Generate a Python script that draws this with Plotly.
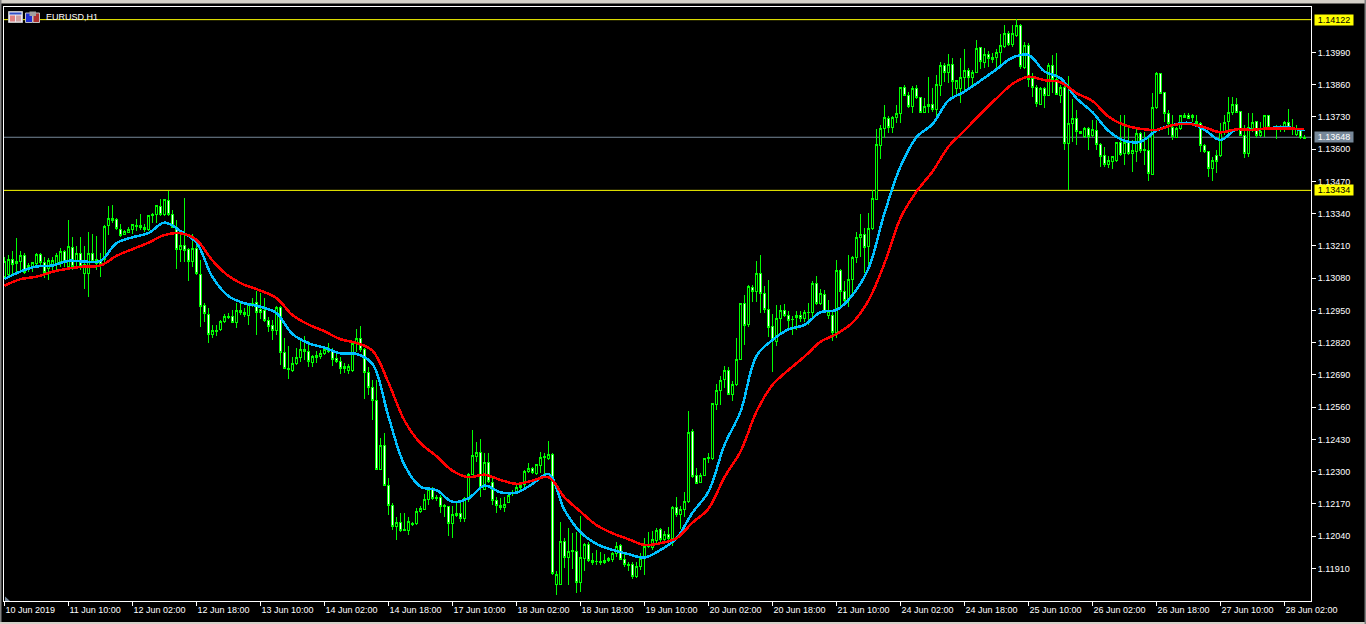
import plotly.graph_objects as go

# EURUSD H1, prices in points (1/100000), one entry per hourly bar
opens = [
    113087,113093,113157,113149,113146,113173,113114,113127,113140,113177,
    113144,113120,113134,113140,113147,113188,113127,113205,113147,113181,
    113100,113100,113181,113140,113147,113154,113292,113322,113318,113277,
    113257,113265,113275,113288,113286,113277,113275,113331,113338,113369,
    113335,113394,113338,113284,113196,113212,113194,113147,113201,113096,
    112968,112935,112854,112865,112872,112907,112921,112924,112902,112951,
    112932,112929,112975,112982,112952,112950,112911,112888,112870,112963,
    112782,112712,112710,112737,112759,112786,112786,112740,112761,112764,
    112777,112784,112786,112755,112745,112726,112709,112709,112815,112838,
    112794,112701,112640,112588,112308,112407,112245,112162,112079,112096,
    112068,112063,112086,112090,112138,112146,112189,112232,112192,112197,
    112162,112160,112092,112122,112133,112111,112190,112290,112361,112379,
    112229,112338,112256,112184,112157,112157,112176,112211,112219,112235,
    112247,112301,112314,112291,112326,112357,112353,112371,111845,111844,
    112020,111955,111978,111980,111855,111950,112008,111934,111937,111934,
    111934,111942,111947,111971,112001,111947,111924,111927,111877,111918,
    111953,111998,111994,112023,112066,112025,112048,112032,112157,112126,
    112146,112181,112461,112283,112256,112283,112355,112355,112570,112627,
    112670,112709,112610,112650,112754,112977,112892,113044,113026,113100,
    113020,112955,112885,112825,112919,112948,112928,112912,112923,112928,
    112918,112942,112942,113060,112979,113016,112930,112928,112861,113112,
    113028,112990,113076,113164,113245,113257,113207,113281,113399,113615,
    113684,113724,113688,113727,113744,113848,113816,113771,113845,113809,
    113748,113771,113781,113761,113857,113939,113908,113942,113845,113844,
    113888,113918,113888,113908,114011,113949,113982,113961,113970,113989,
    114013,114067,114023,114060,114097,113930,114016,113883,113849,113782,
    113843,113818,113938,113879,113818,113849,113621,113704,113725,113673,
    113651,113684,113655,113675,113620,113573,113540,113551,113554,113628,
    113581,113630,113582,113592,113664,113593,113593,113499,113769,113906,
    113828,113745,113688,113648,113683,113729,113735,113729,113702,113704,
    113614,113590,113523,113575,113574,113669,113711,113747,113782,113750,
    113657,113581,113684,113711,113655,113684,113734,113688,113683,113683,
    113687,113708,113688,113661,113678,113645,
]
highs = [
    113165,113174,113188,113241,113188,113181,113140,113147,113181,113183,
    113167,113161,113165,113181,113201,113194,113315,113245,113208,113245,
    113208,113265,113259,113251,113181,113295,113372,113376,113322,113299,
    113275,113288,113299,113318,113339,113299,113335,113342,113376,113400,
    113400,113432,113355,113315,113261,113402,113201,113257,113241,113154,
    112979,112959,112892,112892,112912,112936,112939,112950,112979,112979,
    112959,112979,112999,113030,113019,112999,112923,112912,112968,112968,
    112838,112807,112764,112798,112831,112847,112825,112771,112787,112791,
    112804,112818,112798,112784,112764,112737,112734,112818,112874,112888,
    112798,112724,112670,112670,112435,112455,112274,112173,112116,112133,
    112133,112119,112099,112153,112160,112211,112233,112240,112207,112207,
    112170,112162,112160,112173,112173,112197,112294,112469,112418,112431,
    112375,112375,112274,112200,112193,112200,112213,112227,112247,112260,
    112307,112337,112321,112332,112381,112377,112424,112375,111898,112096,
    112032,112072,112052,112059,112122,112012,112018,111971,111985,111978,
    111967,111958,111978,112018,112009,111971,111938,111938,111938,111971,
    112032,112059,112063,112072,112072,112063,112076,112160,112200,112160,
    112220,112543,112471,112314,112294,112357,112377,112578,112654,112684,
    112727,112721,112664,112841,112982,113013,113053,113053,113150,113174,
    113049,113073,112936,112973,112974,112977,112946,112928,112946,112948,
    112953,112979,113067,113090,113036,113033,112993,112952,113154,113116,
    113067,113174,113168,113267,113339,113281,113341,113435,113681,113697,
    113778,113734,113734,113778,113852,113859,113832,113855,113859,113809,
    113805,113890,113845,113899,113953,113949,113984,113966,113879,113969,
    114002,113926,113919,114040,114013,114007,113997,113986,114002,114064,
    114101,114078,114101,114123,114103,114033,114027,113906,113859,113852,
    113849,113946,113980,113989,113859,113859,113895,113801,113758,113675,
    113691,113691,113718,113718,113624,113610,113573,113570,113630,113738,
    113738,113698,113637,113684,113671,113671,113651,113828,113911,113906,
    113832,113758,113738,113688,113738,113745,113747,113742,113738,113711,
    113621,113590,113570,113597,113704,113738,113812,113812,113805,113751,
    113698,113745,113747,113715,113711,113735,113738,113691,113698,113698,
    113715,113761,113721,113698,113678,113657,
]
lows = [
    113080,113087,113093,113093,113100,113097,113107,113107,113127,113127,
    113080,113071,113107,113107,113127,113127,113120,113114,113127,113114,
    113036,113006,113140,113114,113084,113147,113255,113302,113275,113248,
    113255,113261,113259,113272,113275,113268,113272,113304,113304,113331,
    113329,113329,113282,113116,113147,113147,113067,113127,113093,112885,
    112905,112818,112838,112847,112869,112901,112915,112898,112878,112932,
    112925,112892,112963,112851,112915,112905,112865,112831,112851,112730,
    112717,112675,112700,112730,112744,112751,112724,112724,112740,112753,
    112771,112777,112728,112737,112694,112697,112694,112700,112784,112784,
    112595,112610,112509,112307,112307,112245,112126,112065,112025,112059,
    112060,112045,112082,112086,112133,112146,112166,112186,112184,112133,
    112119,112041,112031,112119,112099,112099,112180,112287,112341,112200,
    112227,112254,112166,112133,112146,112139,112173,112203,112211,112227,
    112240,112294,112291,112287,112294,112287,112348,111884,111804,111844,
    111911,111844,111907,111813,111817,111898,111938,111924,111924,111924,
    111928,111938,111938,111958,111945,111918,111898,111867,111871,111904,
    111884,111992,111985,112012,112018,112012,112025,112001,112119,112068,
    112119,112173,112274,112251,112254,112281,112337,112348,112549,112570,
    112637,112610,112587,112646,112751,112811,112885,112986,112986,112939,
    112939,112845,112700,112807,112865,112923,112872,112852,112872,112905,
    112905,112892,112919,112973,112973,112939,112915,112825,112841,112959,
    112966,112963,113006,113140,113167,113100,113113,113274,113395,113560,
    113644,113667,113667,113707,113704,113814,113765,113744,113801,113744,
    113744,113744,113751,113724,113814,113872,113868,113812,113812,113787,
    113839,113852,113852,113906,113922,113926,113933,113946,113926,113939,
    114006,114016,114010,114053,113922,113922,113852,113809,113771,113778,
    113765,113814,113825,113818,113785,113597,113434,113630,113617,113661,
    113644,113597,113651,113597,113530,113527,113523,113519,113550,113573,
    113536,113577,113510,113550,113583,113536,113473,113496,113761,113821,
    113711,113657,113637,113644,113678,113725,113721,113711,113698,113590,
    113583,113489,113473,113503,113570,113657,113664,113738,113745,113653,
    113563,113567,113671,113644,113651,113651,113684,113678,113641,113671,
    113671,113684,113657,113653,113640,113641,
]
closes = [
    113147,113157,113134,113139,113173,113103,113130,113143,113177,113143,
    113103,113153,113153,113173,113188,113147,113208,113127,113181,113127,
    113134,113181,113147,113154,113134,113288,113322,113312,113282,113253,
    113267,113277,113295,113292,113291,113284,113331,113338,113372,113338,
    113396,113338,113286,113197,113212,113193,113147,113201,113100,112966,
    112936,112854,112870,112870,112907,112924,112924,112902,112951,112940,
    112940,112975,112979,112943,112943,112911,112885,112870,112963,112782,
    112717,112718,112737,112759,112791,112791,112745,112764,112767,112777,
    112791,112794,112753,112745,112717,112717,112726,112815,112838,112794,
    112701,112640,112588,112307,112407,112245,112162,112081,112096,112063,
    112063,112100,112092,112141,112152,112189,112229,112192,112197,112160,
    112160,112092,112126,112133,112113,112193,112290,112364,112379,112238,
    112338,112259,112184,112165,112162,112169,112205,112213,112238,112246,
    112301,112314,112297,112328,112358,112360,112371,111891,111887,112020,
    111955,111980,111981,111855,111953,112008,111942,111942,111938,111938,
    111943,111949,111971,111998,111947,111926,111928,111877,111918,111950,
    111998,112005,112025,112063,112025,112048,112032,112157,112129,112146,
    112181,112459,112281,112254,112285,112355,112357,112574,112627,112668,
    112709,112611,112653,112754,112977,112891,113045,113026,113100,113020,
    112955,112883,112832,112919,112948,112928,112910,112915,112928,112918,
    112940,112943,113060,112979,113017,112946,112946,112862,113112,113026,
    112990,113076,113165,113245,113257,113204,113281,113402,113617,113684,
    113728,113688,113728,113744,113849,113818,113771,113845,113808,113747,
    113774,113781,113761,113859,113939,113908,113942,113872,113875,113890,
    113918,113888,113910,114007,113953,113980,113966,113970,113990,114016,
    114067,114021,114067,114097,113933,114016,113882,113849,113785,113845,
    113818,113938,113879,113820,113849,113621,113704,113725,113671,113664,
    113684,113653,113680,113620,113570,113540,113555,113570,113628,113577,
    113626,113583,113593,113664,113593,113597,113503,113769,113906,113825,
    113742,113702,113651,113683,113735,113735,113725,113735,113711,113613,
    113589,113523,113553,113550,113671,113707,113749,113782,113747,113657,
    113581,113688,113707,113657,113671,113734,113688,113683,113680,113690,
    113708,113688,113678,113683,113648,113648,
]

# moving averages read every 4 bars
ma_bars = list(range(0, 326, 4)) + [325]
ma_fast = [
    113077,113107,113127,113131,113150,113147,113150,113221,113245,113262,
    113304,113270,113223,113084,113008,112979,112965,112939,112855,112818,
    112800,112777,112775,112734,112522,112327,112240,112226,112179,112193,
    112244,112217,112216,112251,112291,112146,112056,112009,111985,111968,
    111954,111985,112032,112135,112220,112408,112542,112767,112831,112874,
    112892,112943,112952,113012,113120,113342,113530,113648,113701,113796,
    113832,113876,113922,113969,113980,113913,113886,113805,113749,113674,
    113634,113630,113675,113697,113706,113678,113637,113680,113678,113684,
    113690,113678,113678,
]
ma_slow = [
    113050,113076,113086,113106,113119,113127,113131,113170,113197,113223,
    113254,113261,113234,113151,113089,113053,113030,113000,112931,112893,
    112866,112834,112819,112788,112659,112506,112415,112363,112304,112278,
    112288,112267,112251,112264,112278,112197,112139,112085,112052,112028,
    112005,112012,112032,112095,112151,112278,112381,112542,112650,112710,
    112764,112824,112855,112901,112990,113140,113322,113429,113510,113610,
    113675,113742,113805,113863,113892,113878,113870,113826,113794,113731,
    113697,113682,113678,113697,113702,113688,113668,113680,113678,113684,
    113683,113682,113682,
]

price_ticks = [1.13990, 1.13860, 1.13730, 1.13600, 1.13470, 1.13340, 1.13210, 1.13080, 1.12950,
               1.12820, 1.12690, 1.12560, 1.12430, 1.12300, 1.12170, 1.12040, 1.11910]
time_ticks = list(range(0, 321, 16))
time_labels = ["10 Jun 2019", "11 Jun 10:00", "12 Jun 02:00", "12 Jun 18:00", "13 Jun 10:00", "14 Jun 02:00",
               "14 Jun 18:00", "17 Jun 10:00", "18 Jun 02:00", "18 Jun 18:00", "19 Jun 10:00", "20 Jun 02:00",
               "20 Jun 18:00", "21 Jun 10:00", "24 Jun 02:00", "24 Jun 18:00", "25 Jun 10:00", "26 Jun 02:00",
               "26 Jun 18:00", "27 Jun 10:00", "28 Jun 02:00"]
level_high = 1.14122
level_low = 1.13434
level_last = 1.13648

FONT = "Liberation Sans, sans-serif"
W, H = 1366, 624
L, R, T, B = 4, 55, 7, 23


def px(x):
    return (x - L) / (W - L - R)


def py(y):
    return 1 - (y - T) / (H - T - B)


def box(x0, y0, x1, y1, color, line=None):
    return dict(type="rect", xref="paper", yref="paper", x0=px(x0), x1=px(x1), y0=py(y0), y1=py(y1),
                fillcolor=color, line=dict(color=line or color, width=1 if line else 0), layer="above")


def to_price(points):
    return [p / 100000 for p in points]


fig = go.Figure()
fig.add_trace(go.Candlestick(
    x=list(range(len(opens))),
    open=to_price(opens), high=to_price(highs), low=to_price(lows), close=to_price(closes),
    increasing=dict(line=dict(color="#00ff00", width=1), fillcolor="#000000"),
    decreasing=dict(line=dict(color="#00ff00", width=1), fillcolor="#ffffff"),
    whiskerwidth=0,
))
fig.add_trace(go.Scatter(x=ma_bars, y=to_price(ma_fast), mode="lines",
                         line=dict(color="#00bfff", width=2.5, shape="spline", smoothing=1)))
fig.add_trace(go.Scatter(x=ma_bars, y=to_price(ma_slow), mode="lines",
                         line=dict(color="#ff0000", width=2.5, shape="spline", smoothing=1)))

# horizontal levels
for level, color in [(level_high, "#ffff00"), (level_low, "#ffff00"), (level_last, "#778899")]:
    fig.add_shape(type="line", xref="paper", x0=0, x1=1, yref="y", y0=level, y1=level,
                  line=dict(color=color, width=1), layer="below")

# price tags on the right
for level, bg, fg in [(level_high, "#ffff00", "#000000"), (level_low, "#ffff00", "#000000"),
                      (level_last, "#778899", "#ffffff")]:
    fig.add_annotation(xref="paper", x=px(1314), xanchor="left", yref="y", y=level, text=f"{level:.5f}",
                       showarrow=False, bgcolor=bg, width=38, height=10, borderpad=0, align="center",
                       font=dict(family=FONT, size=9, color=fg))

fig.add_annotation(xref="paper", yref="paper", x=px(44), y=py(17.5), xanchor="left", yanchor="middle",
                   text="EURUSD,H1", showarrow=False, font=dict(family=FONT, size=9, color="#ffffff"))

fig.update_layout(
    width=W, height=H, autosize=False,
    margin=dict(l=L, r=R, t=T, b=B, pad=0),
    paper_bgcolor="#000000", plot_bgcolor="#000000",
    showlegend=False, hovermode=False, boxgap=0.5,
    font=dict(family=FONT, size=9, color="#ffffff"),
    xaxis=dict(range=[-0.125, 326.625], tickmode="array", tickvals=time_ticks, ticktext=time_labels,
               ticks="outside", ticklen=4, tickcolor="#ffffff", tickwidth=1, tickangle=0, automargin=False,
               ticklabelposition="outside right", showgrid=False, zeroline=False,
               showline=True, linecolor="#ffffff", linewidth=1, mirror=True,
               rangeslider=dict(visible=False), tickfont=dict(family=FONT, size=9, color="#ffffff")),
    yaxis=dict(range=[1.11779, 1.14173], side="right", tickmode="array", tickvals=price_ticks, automargin=False,
               tickformat=".5f", ticks="outside", ticklen=4, tickcolor="#ffffff", tickwidth=1,
               showgrid=False, zeroline=False, showline=True, linecolor="#ffffff", linewidth=1, mirror=True,
               tickfont=dict(family=FONT, size=9, color="#ffffff")),
    shapes=list(fig.layout.shapes) + [
        # window edges
        box(0, 0, W, 3.5, "#d4d0c8"),
        box(0, 0, 1.5, H, "#808080"),
        box(0, 622, W, H, "#d4d0c8"),
        box(W - 1.5, 0, W, H, "#808080"),
        # toolbar icons next to the symbol
        box(8.5, 11.5, 22.5, 22.5, "#e8e8f0", "#c0c0c0"),
        box(9.5, 12.5, 21.5, 14.5, "#3050c8"),
        box(10, 15.5, 15, 21.5, "#e08080"),
        box(16, 15.5, 21, 21.5, "#d0a0a0"),
        box(25.5, 13, 32.5, 22.5, "#2030d0", "#c0c0c0"),
        box(33, 13, 39.5, 22.5, "#b03030", "#c0c0c0"),
        box(29.5, 11.5, 36, 16, "#a0a0a0"),
        # shift marker in the corner
        dict(type="path", xref="paper", yref="paper",
             path=f"M {px(5)} {py(596.5)} L {px(10)} {py(601)} L {px(5)} {py(601)} Z",
             fillcolor="#778899", line=dict(width=0), layer="above"),
    ],
)

# page margin off, and hard pixel edges on the candles and lines like the terminal draws them
page_css = """
document.body.style.margin='0';
document.body.style.background='#000';
document.body.style.overflow='hidden';
var s=document.createElement('style');
s.textContent='.boxlayer path,.scatterlayer path{shape-rendering:crispEdges !important;}';
document.head.appendChild(s);
"""
fig.write_html("out.html", config=dict(displayModeBar=False), post_script=page_css)
